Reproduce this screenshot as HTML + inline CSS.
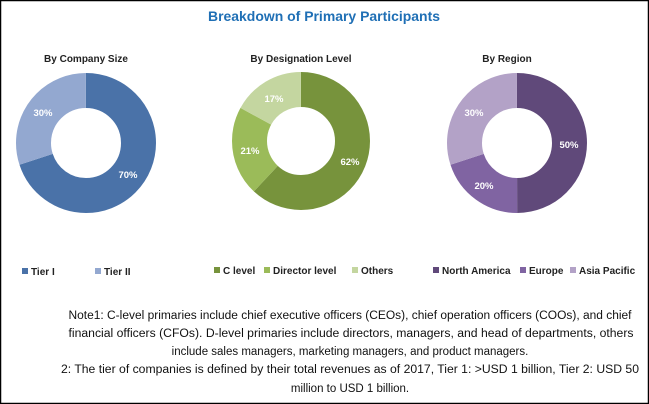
<!DOCTYPE html>
<html><head><style>
body{margin:0;background:#fff}
svg{display:block}
text{font-family:"Liberation Sans",sans-serif}
</style></head><body>
<svg width="649" height="404" viewBox="0 0 649 404">
<rect x="0.5" y="0.5" width="648" height="403" fill="#fff" stroke="#000" stroke-width="1.5"/>
<text x="324" y="21" text-anchor="middle" font-size="14" font-weight="bold" fill="#1f6fb5" textLength="232" lengthAdjust="spacingAndGlyphs">Breakdown of Primary Participants</text>
<g font-size="10" font-weight="bold" fill="#222" text-anchor="middle">
<text x="86" y="62">By Company Size</text>
<text x="301" y="62">By Designation Level</text>
<text x="507" y="62">By Region</text>
</g>
<g fill="none" stroke-width="35">
<g transform="translate(86,143) rotate(-90)">
<circle r="52.5" pathLength="100" stroke="#4a72a8" stroke-dasharray="70 30"/>
<circle r="52.5" pathLength="100" stroke="#93a8d0" stroke-dasharray="30 70" stroke-dashoffset="-70"/>
</g>
<g transform="translate(301,141) rotate(-90)">
<circle r="51.5" pathLength="100" stroke="#77933c" stroke-dasharray="62 38"/>
<circle r="51.5" pathLength="100" stroke="#9bbb59" stroke-dasharray="21 79" stroke-dashoffset="-62"/>
<circle r="51.5" pathLength="100" stroke="#c4d6a0" stroke-dasharray="17 83" stroke-dashoffset="-83"/>
</g>
<g transform="translate(517,143) rotate(-90)">
<circle r="52.5" pathLength="100" stroke="#60497a" stroke-dasharray="50 50"/>
<circle r="52.5" pathLength="100" stroke="#8064a2" stroke-dasharray="20 80" stroke-dashoffset="-50"/>
<circle r="52.5" pathLength="100" stroke="#b3a2c7" stroke-dasharray="30 70" stroke-dashoffset="-70"/>
</g>
</g>
<g font-size="9.5" font-weight="bold" fill="#fff" text-anchor="middle">
<text x="128" y="178">70%</text>
<text x="43" y="116">30%</text>
<text x="350" y="165">62%</text>
<text x="250" y="154">21%</text>
<text x="274" y="102">17%</text>
<text x="569" y="148">50%</text>
<text x="484" y="189">20%</text>
<text x="474" y="116">30%</text>
</g>
<g font-size="10" font-weight="bold" fill="#222">
<rect x="22" y="268" width="6" height="6" fill="#4a72a8"/><text x="31" y="275">Tier I</text>
<rect x="95" y="268" width="6" height="6" fill="#93a8d0"/><text x="104" y="275">Tier II</text>
<rect x="214" y="267" width="6" height="6" fill="#77933c"/><text x="223" y="274">C level</text>
<rect x="264" y="267" width="6" height="6" fill="#9bbb59"/><text x="273" y="274">Director level</text>
<rect x="352" y="267" width="6" height="6" fill="#c4d6a0"/><text x="361" y="274">Others</text>
<rect x="433" y="267" width="6" height="6" fill="#60497a"/><text x="442" y="274">North America</text>
<rect x="520" y="267" width="6" height="6" fill="#8064a2"/><text x="529" y="274">Europe</text>
<rect x="570" y="267" width="6" height="6" fill="#b3a2c7"/><text x="579" y="274">Asia Pacific</text>
</g>
<g font-size="11.5" fill="#111" text-anchor="middle">
<text x="350" y="319" textLength="563" lengthAdjust="spacingAndGlyphs">Note1: C-level primaries include chief executive officers (CEOs), chief operation officers (COOs), and chief</text>
<text x="351" y="337" textLength="565" lengthAdjust="spacingAndGlyphs">financial officers (CFOs). D-level primaries include directors, managers, and head of departments, others</text>
<text x="350" y="355">include sales managers, marketing managers, and product managers.</text>
<text x="350" y="373" textLength="578" lengthAdjust="spacingAndGlyphs">2: The tier of companies is defined by their total revenues as of 2017, Tier 1: &gt;USD 1 billion, Tier 2: USD 50</text>
<text x="350" y="392">million to USD 1 billion.</text>
</g>
</svg>
</body></html>
